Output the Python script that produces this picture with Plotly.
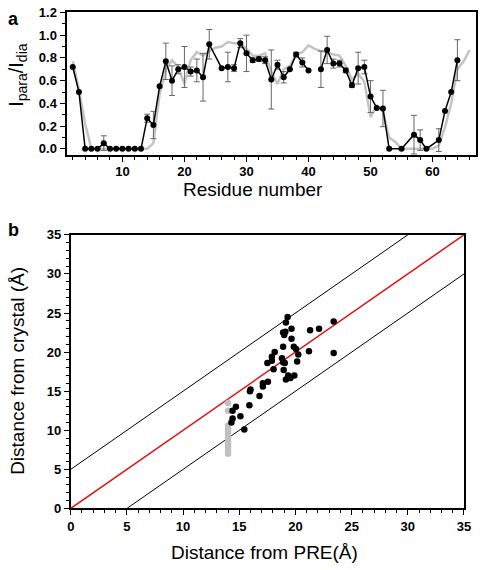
import plotly.graph_objects as go

# ---------------- Panel a data ----------------
residues = [2, 3, 4, 5, 6, 7, 8, 9, 10, 11, 12, 13, 14, 15, 16, 17, 18, 19, 20, 21, 22, 23, 24,
            26, 27, 28, 29, 30, 31, 32, 33, 34, 35, 36, 37, 38, 39, 40, 41, 42, 43, 44, 45, 46,
            47, 48, 49, 50, 51, 52, 53, 55, 57, 58, 59, 61, 62, 63, 64]
ratio = [0.72, 0.50, 0.0, 0.0, 0.0, 0.05, 0.0, 0.0, 0.0, 0.0, 0.0, 0.0, 0.27, 0.21, 0.55, 0.77,
         0.60, 0.70, 0.72, 0.68, 0.69, 0.63, 0.92,
         0.71, 0.72, 0.71, 0.93, 0.84, 0.78, 0.79, 0.78, 0.61, 0.74, 0.63, 0.70, 0.83, 0.76, 0.69,
         None, 0.70, 0.87, 0.75, 0.75, 0.69,
         0.56, 0.71, 0.72, 0.46, 0.36, 0.355, 0.0, 0.0, 0.125, 0.077, 0.0, 0.077, 0.334, 0.50, 0.78]
ratio_err = [0, 0, 0, 0, 0, 0.065, 0, 0, 0, 0, 0, 0, 0.035, 0.12, 0, 0.16,
             0.13, 0.04, 0.18, 0.04, 0.10, 0.21, 0.13,
             0, 0.13, 0.03, 0.04, 0.16, 0.02, 0.02, 0.03, 0.26, 0.04, 0.05, 0, 0.02, 0.04, 0,
             0, 0.16, 0.12, 0.04, 0.03, 0.02,
             0.02, 0.14, 0.06, 0.14, 0, 0.16, 0, 0, 0.17, 0.09, 0, 0.10, 0, 0, 0.18]

calc_res = list(range(2, 67))
calc_ratio = [0.77, 0.52, 0.22, 0.0, 0.0, 0.0, 0.0, 0.0, 0.0, 0.0, 0.0, 0.0, 0.0,
              0.05, 0.48, 0.70, 0.78, 0.72, 0.57, 0.78, 0.85, 0.82, 0.86, 0.89, 0.90, 0.94,
              0.93, 0.93, 0.88, 0.82, 0.82, 0.84, 0.68, 0.57, 0.70, 0.73, 0.83, 0.85, 0.91,
              0.88, 0.86, 0.85, 0.83, 0.82, 0.73, 0.61, 0.66, 0.59, 0.28, 0.38, 0.33, 0.10,
              0.06, 0.0, 0.0, 0.0, 0.0, 0.0, 0.0, 0.03, 0.19, 0.40, 0.70, 0.77, 0.87]

# ---------------- Panel b data ----------------
pre_dist = [23.4, 23.4, 22.1, 21.3, 21.2, 19.3, 19.15, 19.65, 18.9, 19.1, 19.0, 19.65, 18.9,
            19.85, 20.05, 20.25, 20.15, 18.15, 17.9, 17.9, 17.5, 18.8, 18.9, 19.05, 18.05, 18.95,
            19.35, 19.9, 19.15, 19.55, 17.55, 17.1, 17.1, 16.0, 15.95, 16.8, 15.9, 14.7, 14.4,
            15.1, 14.4, 14.3, 15.45]
crystal_dist = [23.9, 19.9, 23.0, 22.8, 20.1, 24.5, 23.8, 23.0, 22.5, 22.6, 22.2, 21.7, 20.7,
                20.7, 20.4, 19.7, 18.8, 20.0, 19.4, 18.9, 18.6, 19.2, 18.7, 18.6, 17.8, 17.7,
                17.0, 17.0, 16.5, 16.7, 16.2, 16.0, 15.6, 15.2, 15.0, 14.4, 13.2, 13.0, 12.5,
                11.8, 11.5, 11.0, 10.1]
limit_pre = [14, 14, 14, 14, 14, 14, 14, 14, 14, 14, 14, 14]
limit_crystal = [13.5, 12.5, 10.6, 10.2, 9.8, 9.4, 9.0, 8.6, 8.2, 7.8, 7.4, 7.0]

identity_x = [0, 35]
identity_y = [0, 35]
upper_x = [0, 30]
upper_y = [5, 35]
lower_x = [5, 35]
lower_y = [0, 30]

W, H = 484, 570
FONT = "Liberation Sans, Arial, sans-serif"

fig = go.Figure()

# gray calculated line
fig.add_trace(go.Scatter(x=calc_res, y=calc_ratio, mode="lines",
                         line=dict(color="#c4c4c4", width=2.5),
                         xaxis="x", yaxis="y", showlegend=False, hoverinfo="skip"))

# error bars (only where present)
err_x = [r for r, v, e in zip(residues, ratio, ratio_err) if e and v is not None]
err_y = [v for r, v, e in zip(residues, ratio, ratio_err) if e and v is not None]
err_e = [e for r, v, e in zip(residues, ratio, ratio_err) if e and v is not None]
fig.add_trace(go.Scatter(x=err_x, y=err_y, mode="markers",
                         marker=dict(size=1, color="rgba(0,0,0,0)"),
                         error_y=dict(type="data", array=err_e, symmetric=True,
                                      color="#666666", thickness=1, width=3),
                         xaxis="x", yaxis="y", showlegend=False, hoverinfo="skip"))

# experimental line
fig.add_trace(go.Scatter(x=residues, y=ratio, mode="lines+markers",
                         line=dict(color="black", width=1.5),
                         marker=dict(color="black", size=6),
                         connectgaps=False,
                         xaxis="x", yaxis="y", showlegend=False))

# panel b lines
for lx, ly, col, w in [(upper_x, upper_y, "black", 1), (lower_x, lower_y, "black", 1),
                       (identity_x, identity_y, "#e01010", 1.5)]:
    fig.add_trace(go.Scatter(x=lx, y=ly, mode="lines", line=dict(color=col, width=w),
                             xaxis="x2", yaxis="y2", showlegend=False, hoverinfo="skip"))

fig.add_trace(go.Scatter(x=limit_pre, y=limit_crystal, mode="markers",
                         marker=dict(color="#c0c0c0", size=6.5),
                         xaxis="x2", yaxis="y2", showlegend=False))
fig.add_trace(go.Scatter(x=pre_dist, y=crystal_dist, mode="markers",
                         marker=dict(color="black", size=6.5),
                         xaxis="x2", yaxis="y2", showlegend=False))

tickfont = dict(family=FONT, size=13, color="black", weight="bold")
common = dict(showgrid=False, zeroline=False, showline=True, linecolor="black",
              linewidth=2, mirror=True, ticks="outside", ticklen=5, tickwidth=1.2,
              tickcolor="black", tickfont=tickfont, tickprefix="<b>", ticksuffix="</b>")

fig.update_layout(
    width=W, height=H,
    margin=dict(l=0, r=0, t=0, b=0),
    paper_bgcolor="white", plot_bgcolor="white",
    xaxis=dict(domain=[64 / W, 483 / W], range=[1, 67], anchor="y",
               dtick=10, tick0=0, ticklabelstandoff=-2,
               minor=dict(dtick=2, ticks="outside", ticklen=3, tickcolor="black", tickwidth=1),
               **common),
    yaxis=dict(domain=[1 - 152 / H, 1 - 5 / H], range=[-0.054, 1.205], anchor="x",
               dtick=0.2, tick0=0, tickformat=".1f",
               minor=dict(dtick=0.1, ticks="outside", ticklen=3, tickcolor="black", tickwidth=1),
               **common),
    xaxis2=dict(domain=[68.3 / W, 470.7 / W], range=[0, 35], anchor="y2",
                dtick=5, tick0=0,
                minor=dict(dtick=1, ticks="outside", ticklen=3, tickcolor="black", tickwidth=1),
                **common),
    yaxis2=dict(domain=[1 - 515 / H, 1 - 234 / H], range=[0, 35], anchor="x2",
                dtick=5, tick0=0,
                minor=dict(dtick=1, ticks="outside", ticklen=3, tickcolor="black", tickwidth=1),
                **common),
)

title_font = dict(family=FONT, size=19, color="black")
annotations = [
    dict(text="Residue number", x=254.5 / W, y=1 - 187 / H, font=title_font),
    dict(text="Distance from PRE(Å)", x=266.5 / W, y=1 - 560 / H, font=title_font),
    dict(text="Distance from crystal (Å)", x=13 / W, y=1 - 374 / H, font=title_font,
         textangle=-90),
    dict(text="I<sub>para</sub>/I<sub>dia</sub>", x=13 / W, y=1 - 70 / H,
         font=dict(family=FONT, size=20, color="black"), textangle=-90),
    dict(text="<b>a</b>", x=10 / W, y=1 - 12 / H,
         font=dict(family=FONT, size=18, color="black")),
    dict(text="<b>b</b>", x=10 / W, y=1 - 229 / H,
         font=dict(family=FONT, size=18, color="black")),
]
for a in annotations:
    a.update(xref="paper", yref="paper", showarrow=False, xanchor="center", yanchor="middle")
fig.update_layout(annotations=annotations)

fig.write_html("out.html",
               config={"displayModeBar": False},
               post_script="document.body.style.margin='0px';"
                           "document.body.style.padding='0px';"
                           "document.documentElement.style.overflow='hidden';")
